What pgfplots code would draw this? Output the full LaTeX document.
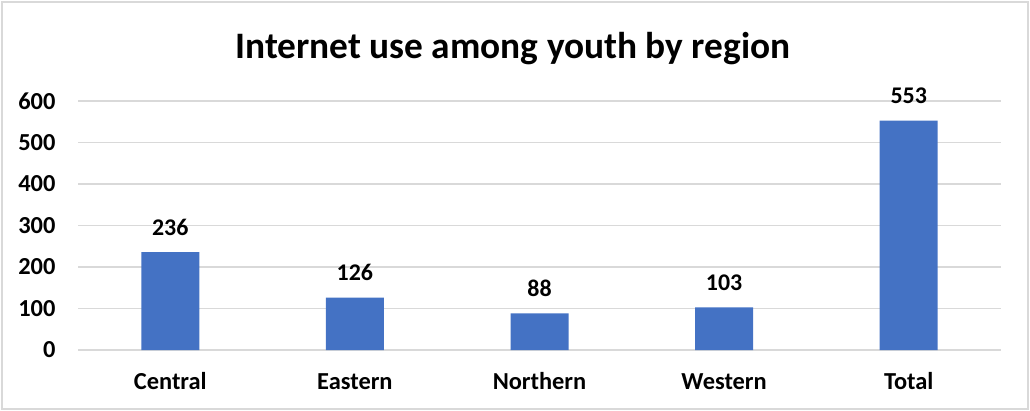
\documentclass[border=0pt]{standalone}
\usepackage{fontspec}
\setmainfont{Carlito}
\usepackage{pgfplots}
\pgfplotsset{compat=1.18}
\definecolor{barblue}{HTML}{4472C4}
\definecolor{gridgray}{HTML}{D9D9D9}
\begin{document}
\begin{tikzpicture}
\useasboundingbox (0,0) rectangle (1030bp,411bp);
\draw[gridgray, line width=1.2bp] (2bp,2bp) rectangle (1028bp,409bp);
\node[font=\bfseries\fontsize{37.5}{44}\selectfont, anchor=center] at (513bp,362bp) {Internet use among youth by region};
\begin{axis}[
  at={(78bp,61bp)}, anchor=south west,
  scale only axis, width=923bp, height=249bp,
  xmin=-0.5, xmax=4.5, ymin=0, ymax=600,
  ytick={0,100,...,600},
  xtick=data,
  xticklabels={Central,Eastern,Northern,Western,Total},
  axis line style={draw=none},
  major tick length=0pt,
  ymajorgrids, grid style={gridgray, line width=1.2bp},
  axis x line*=bottom,
  x axis line style={draw=gridgray, line width=1.2bp},
  axis y line*=left,
  y axis line style={draw=none},
  /pgf/number format/assume math mode=true,
  tick label style={font=\bfseries\fontsize{24.5}{28}\selectfont, text=black},
  yticklabel style={anchor=east, xshift=-19bp},
  xticklabel style={anchor=base, yshift=-39bp},
  ybar, bar width=58bp,
  nodes near coords,
  every node near coord/.append style={font=\bfseries\fontsize{24}{28}\selectfont, text=black, anchor=base, yshift=17bp},
  clip=false,
]
\addplot[fill=barblue, draw=none] coordinates {(0,236) (1,126) (2,88) (3,103) (4,553)};
\end{axis}
\end{tikzpicture}
\end{document}
